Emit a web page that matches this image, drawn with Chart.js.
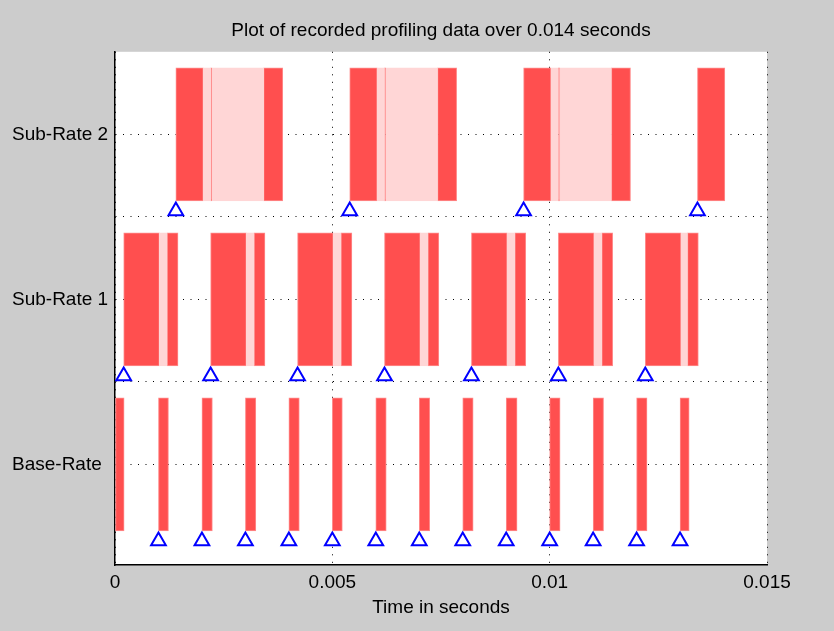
<!DOCTYPE html>
<html>
<head>
<meta charset="utf-8">
<title>Profiling data</title>
<script src="https://cdn.jsdelivr.net/npm/chart.js@4.4.1/dist/chart.umd.min.js"></script>
<style>
  body { margin: 0; background: #cccccc; }
  #wrap { width: 834px; height: 631px; }
</style>
</head>
<body>
<div id="wrap"><canvas id="profileChart" width="834" height="631"></canvas></div>
<script>
// rows from bottom to top
const rateNames = ['Base-Rate', 'Sub-Rate 1', 'Sub-Rate 2'];
const xTickValues = [0, 0.005, 0.01, 0.015];
const xTickLabels = ['0', '0.005', '0.01', '0.015'];

// [start, end] in seconds while the task is executing
const baseRunning = [
    [0, 0.00021], [0.001, 0.00123], [0.002, 0.00224], [0.003, 0.00324], [0.004, 0.00424],
    [0.005, 0.00523], [0.006, 0.00624], [0.007, 0.00724], [0.008, 0.00824], [0.009, 0.00925],
    [0.010, 0.01024], [0.011, 0.01124], [0.012, 0.01224], [0.013, 0.01321]
];
const sub1Running = [
    [0.0002, 0.00102], [0.0012, 0.00145], [0.0022, 0.00302], [0.0032, 0.00345],
    [0.0042, 0.00502], [0.0052, 0.00545], [0.0062, 0.00702], [0.0072, 0.00745],
    [0.0082, 0.00902], [0.0092, 0.00945], [0.0102, 0.01102], [0.0112, 0.01145],
    [0.0122, 0.01302], [0.01317, 0.01342]
];
const sub2Running = [
    [0.0014, 0.00203], [0.0022, 0.00223], [0.00342, 0.00386],
    [0.0054, 0.00603], [0.0062, 0.00623], [0.00742, 0.00786],
    [0.0094, 0.01003], [0.0102, 0.01023], [0.01142, 0.01186],
    [0.0134, 0.01403]
];

// [start, end] in seconds while the task is preempted
const sub1Preempted = [
    [0.00102, 0.0012], [0.00302, 0.0032], [0.00502, 0.0052], [0.00702, 0.0072],
    [0.00902, 0.0092], [0.01102, 0.0112], [0.01302, 0.01317]
];
const sub2Preempted = [
    [0.00203, 0.0022], [0.00223, 0.00342],
    [0.00603, 0.0062], [0.00623, 0.00742],
    [0.01003, 0.0102], [0.01023, 0.01142]
];

// task release times (triangles)
const baseRelease = [0.001, 0.002, 0.003, 0.004, 0.005, 0.006, 0.007, 0.008, 0.009, 0.010, 0.011, 0.012, 0.013];
const sub1Release = [0.0002, 0.0022, 0.0042, 0.0062, 0.0082, 0.0102, 0.0122];
const sub2Release = [0.0014, 0.0054, 0.0094, 0.0134];

const runColor = '#ff4f4f';
const waitColor = '#ffd6d6';
const markerLift = 0.035;

const rows = [
    { run: baseRunning, wait: [], release: baseRelease },
    { run: sub1Running, wait: sub1Preempted, release: sub1Release },
    { run: sub2Running, wait: sub2Preempted, release: sub2Release }
];

function barSet(segs, row, color) {
    return {
        type: 'bar',
        indexAxis: 'y',
        grouped: false,
        barThickness: 133,
        data: segs.map(s => ({ x: s, y: row + 0.5 })),
        backgroundColor: color,
        borderColor: color === runColor ? '#ff8c8c' : waitColor,
        borderWidth: 1,
        borderSkipped: false
    };
}

const datasets = [];
rows.forEach((r, i) => {
    datasets.push(barSet(r.wait, i, waitColor));
    datasets.push(barSet(r.run, i, runColor));
});
rows.forEach((r, i) => {
    datasets.push({
        type: 'scatter',
        data: r.release.map(t => ({ x: t, y: i + markerLift })),
        pointStyle: 'triangle',
        pointRadius: 8.5,
        borderColor: '#0000ff',
        backgroundColor: '#ffffff',
        borderWidth: 2,
        clip: false
    });
});

const plotBackground = {
    id: 'plotBackground',
    beforeDraw(chart) {
        const { ctx, chartArea: a } = chart;
        ctx.save();
        ctx.fillStyle = '#cccccc';
        ctx.fillRect(0, 0, chart.width, chart.height);
        ctx.fillStyle = '#ffffff';
        ctx.fillRect(a.left, a.top, a.right - a.left, a.bottom - a.top);
        ctx.restore();
    }
};

const font = { family: '"Liberation Sans", Arial, sans-serif', size: 19 };

new Chart(document.getElementById('profileChart').getContext('2d'), {
    type: 'bar',
    data: { datasets: datasets },
    plugins: [plotBackground],
    options: {
        responsive: false,
        animation: false,
        layout: { padding: { left: 12, right: 67, top: 0, bottom: 0 } },
        plugins: {
            legend: { display: false },
            tooltip: { enabled: false },
            title: {
                display: true,
                text: 'Plot of recorded profiling data over 0.014 seconds',
                fullSize: false,
                color: '#000',
                font: { family: font.family, size: 19, weight: 'normal' },
                padding: { top: 19, bottom: 10 }
            }
        },
        scales: {
            x: {
                type: 'linear',
                min: 0,
                max: 0.015,
                offset: false,
                afterBuildTicks: scale => { scale.ticks = xTickValues.map(v => ({ value: v })); },
                afterFit: scale => { scale.height = 66; },
                ticks: {
                    color: '#000',
                    font: font,
                    padding: 6,
                    maxRotation: 0,
                    callback: (v, i) => xTickLabels[i]
                },
                grid: { color: '#000', lineWidth: 1, drawTicks: false, offset: false },
                border: { display: true, color: '#000', width: 1.5, dash: [1, 6.5] },
                title: {
                    display: true,
                    text: 'Time in seconds',
                    color: '#000',
                    font: font,
                    padding: { top: 0, bottom: 12 }
                }
            },
            y: {
                type: 'linear',
                min: -0.11,
                max: 3,
                offset: false,
                afterBuildTicks: scale => {
                    scale.ticks = [0.5, 1, 1.5, 2, 2.5].map(v => ({ value: v }));
                },
                afterFit: scale => { scale.width = 103; },
                ticks: {
                    color: '#000',
                    font: font,
                    padding: 6,
                    crossAlign: 'far',
                    callback: v => (v % 1 === 0.5 ? rateNames[Math.floor(v)] : '')
                },
                grid: { color: '#000', lineWidth: 1, drawTicks: false, offset: false },
                border: { display: true, color: '#000', width: 1.5, dash: [1, 6.5] }
            }
        }
    }
});
</script>
</body>
</html>
